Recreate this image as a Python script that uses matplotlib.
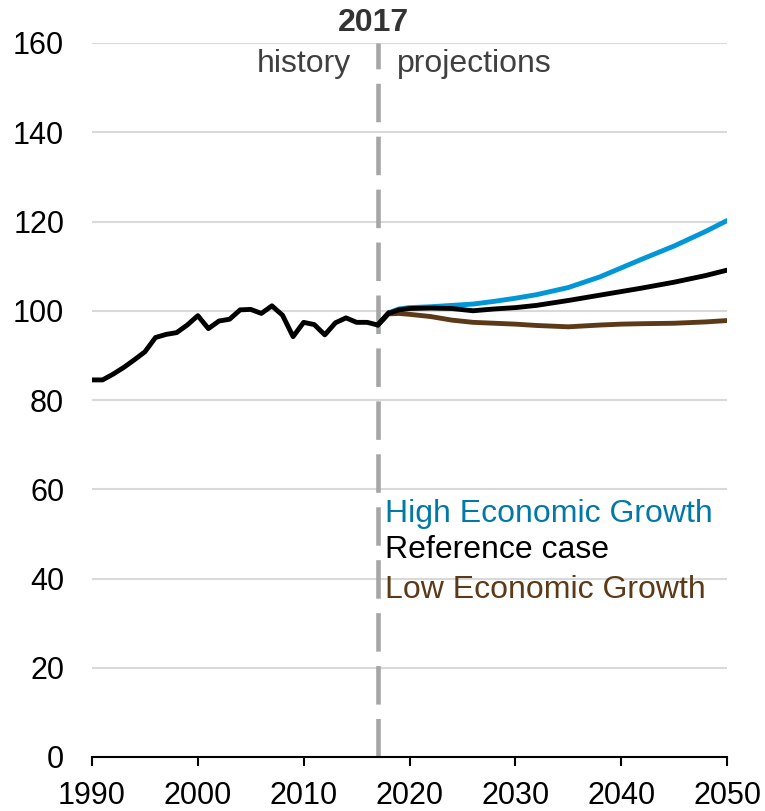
import matplotlib
matplotlib.use('Agg')
import matplotlib.pyplot as plt
import numpy as np

plt.rcParams['font.family'] = ['Liberation Sans', 'DejaVu Sans']
plt.rcParams['font.size'] = 22

# history (index values)
hist_years = np.arange(1990, 2019)
hist_vals = [84.5, 84.5, 85.8, 87.3, 89.0, 90.8, 94.0, 94.7, 95.1, 96.8,
             98.9, 96.0, 97.7, 98.1, 100.2, 100.3, 99.4, 101.1, 99.0, 94.2,
             97.4, 96.9, 94.6, 97.3, 98.4, 97.4, 97.4, 96.8, 99.4]

# projections
proj_years = [2017, 2018, 2019, 2020, 2022, 2024, 2026, 2028, 2030, 2032, 2035,
              2038, 2040, 2042, 2045, 2048, 2050]
ref_vals = [96.8, 99.4, 100.2, 100.5, 100.6, 100.5, 100.0, 100.4, 100.7, 101.2, 102.3,
            103.5, 104.3, 105.1, 106.4, 107.9, 109.1]
high_vals = [96.8, 99.5, 100.4, 100.7, 100.9, 101.2, 101.5, 102.1, 102.8, 103.6, 105.2,
             107.6, 109.6, 111.6, 114.5, 117.8, 120.2]
low_vals = [96.8, 99.3, 99.4, 99.2, 98.7, 97.9, 97.4, 97.2, 97.0, 96.7, 96.4,
            96.8, 97.0, 97.1, 97.2, 97.5, 97.8]

BLUE = '#0096d7'
BLUE_TXT = '#0079a8'
BROWN = '#5c3a18'

fig = plt.figure(figsize=(7.65, 8.11), dpi=100)
ax = fig.add_axes([92 / 765, 1 - 757 / 811, 635 / 765, 714 / 811])

ax.set_xlim(1990, 2050)
ax.set_ylim(0, 160)
ax.set_yticks(np.arange(0, 161, 20))
ax.set_xticks(np.arange(1990, 2051, 10))
ax.yaxis.grid(True, color='#d9d9d9', linewidth=1.5)
ax.set_axisbelow(True)
for s in ['top', 'right', 'left']:
    ax.spines[s].set_visible(False)
ax.spines['bottom'].set_linewidth(1.5)
ax.tick_params(axis='y', length=0, pad=20)
ax.tick_params(axis='x', direction='out', length=6.5, width=1.5, pad=11)

# 2017 divider: dashes ~38px on, ~14px off, starting at the bottom
ax.axvline(2017, color='#a6a6a6', linewidth=3.3, linestyle=(0, (8.4, 3.15)),
           clip_on=False, zorder=2)

lw = 3.5
ax.plot(proj_years, low_vals, color=BROWN, linewidth=lw, zorder=3, solid_capstyle='round')
ax.plot(proj_years, high_vals, color=BLUE, linewidth=lw, zorder=3, solid_capstyle='round')
ax.plot(proj_years, ref_vals, color='black', linewidth=lw, zorder=4, solid_capstyle='round')
ax.plot(hist_years, hist_vals, color='black', linewidth=lw, zorder=4)

fs = 23
ax.text(2016.6, 162.7, '2017', ha='center', va='baseline', fontsize=fs,
        fontweight='bold', color='#333333')
ax.text(2014.5, 153.5, 'history', ha='right', va='baseline', fontsize=fs, color='#404040')
ax.text(2018.8, 153.5, 'projections', ha='left', va='baseline', fontsize=fs, color='#404040')

ax.text(2017.7, 52.7, 'High Economic Growth', color=BLUE_TXT, va='baseline', fontsize=fs)
ax.text(2017.7, 44.5, 'Reference case', color='black', va='baseline', fontsize=fs)
ax.text(2017.7, 35.6, 'Low Economic Growth', color=BROWN, va='baseline', fontsize=fs)

fig.savefig('out.png', dpi=100)
